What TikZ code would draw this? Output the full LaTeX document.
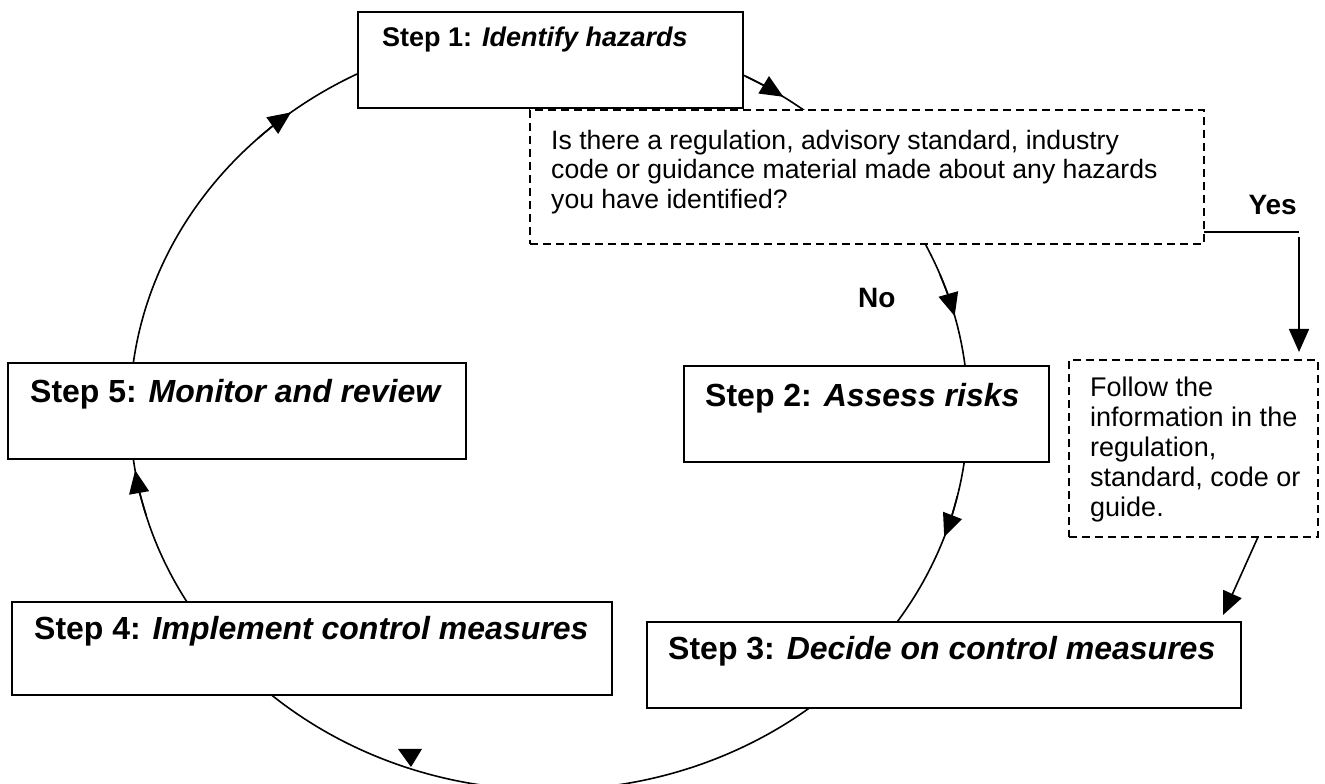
\documentclass[tikz,border=0pt]{standalone}
\usepackage{fontspec}
\setmainfont{Liberation Sans}
\usetikzlibrary{arrows.meta,calc}
\begin{document}
\begin{tikzpicture}[x=1pt,y=1pt,
  box/.style={draw=black, line width=2pt, fill=white, inner sep=0pt, outer sep=0pt},
  dbox/.style={box, dash pattern=on 8pt off 5pt},
  lbl/.style={anchor=base west, inner sep=0pt, font=\fontsize{32}{38}\selectfont\bfseries},
  body/.style={anchor=north west, inner sep=0pt, align=left, font=\fontsize{26.6}{29.5}\selectfont},
  yn/.style={inner sep=0pt, font=\fontsize{28}{32}\selectfont\bfseries},
  tip/.style={-{Triangle[length=23pt,width=20pt]}, line width=1.6pt},
  ring/.style={line width=1.6pt}
]
\useasboundingbox (0,0) rectangle (1325,784);
\coordinate (C) at (549,373);
\draw[ring] (C) ellipse [x radius=419, y radius=379];

% boxes
\node[box, minimum width=385, minimum height=96] (s1) at (550.5,724) {};
\node[dbox, minimum width=674, minimum height=134] (q) at (867,607) {};
\node[box, minimum width=458, minimum height=96] (s5) at (237,373) {};
\node[box, minimum width=365, minimum height=96] (s2) at (866.5,370) {};
\node[dbox, minimum width=249, minimum height=177] (f) at (1193.5,335.5) {};
\node[box, minimum width=600, minimum height=93] (s4) at (312,135.5) {};
\node[box, minimum width=594, minimum height=86] (s3) at (944,119) {};

% arrowheads on the cycle
\draw[tip] ([shift={(134:419 and 379)}]C) arc[start angle=134, end angle=128, x radius=419, y radius=379];
\draw[tip] ([shift={(196:419 and 379)}]C) arc[start angle=196, end angle=189, x radius=419, y radius=379];
\draw[tip] ([shift={(62:419 and 379)}]C) arc[start angle=62, end angle=56, x radius=419, y radius=379];
\draw[tip] ([shift={(21:419 and 379)}]C) arc[start angle=21, end angle=14.5, x radius=419, y radius=379];
\draw[tip] ([shift={(-13:419 and 379)}]C) arc[start angle=-13, end angle=-19.4, x radius=419, y radius=379];
\fill (398,35) -- (422,35) -- (411,17) -- cycle;

% Yes branch
\coordinate (ycorner) at (1299,552);
\draw[line width=1.6pt] ($(q.south east)+(0,12)$) -- (ycorner);
\draw[tip] ($(ycorner)+(0,-5)$) -- ($(f.north -| ycorner)+(0,8)$);
\draw[tip] ($(f.south west)+(189,0)$) -- ($(s3.north west)+(576,7)$);

% texts
\node[lbl, font=\fontsize{27}{32}\selectfont\bfseries] (t1) at (382,737) {Step 1: \textit{Identify hazards}};
\node[lbl] (t5) at (30,381) {Step 5: \textit{Monitor and review}};
\node[lbl] (t2) at (705,377) {Step 2: \textit{Assess risks}};
\node[lbl] (t4) at (34,144) {Step 4: \textit{Implement control measures}};
\node[lbl] (t3) at (668,124) {Step 3: \textit{Decide on control measures}};
\node[body] (tq) at (551,654) {Is there a regulation, advisory standard, industry\\code or guidance material made about any hazards\\you have identified?};
\node[body, font=\fontsize{27}{30}\selectfont] (tf) at (1090,407) {Follow the\\information in the\\regulation,\\standard, code or\\guide.};
\node[yn, anchor=base east] (yes) at (1297,569) {Yes};
\node[yn, anchor=base west] (no) at (858,476) {No};
\end{tikzpicture}
\end{document}
